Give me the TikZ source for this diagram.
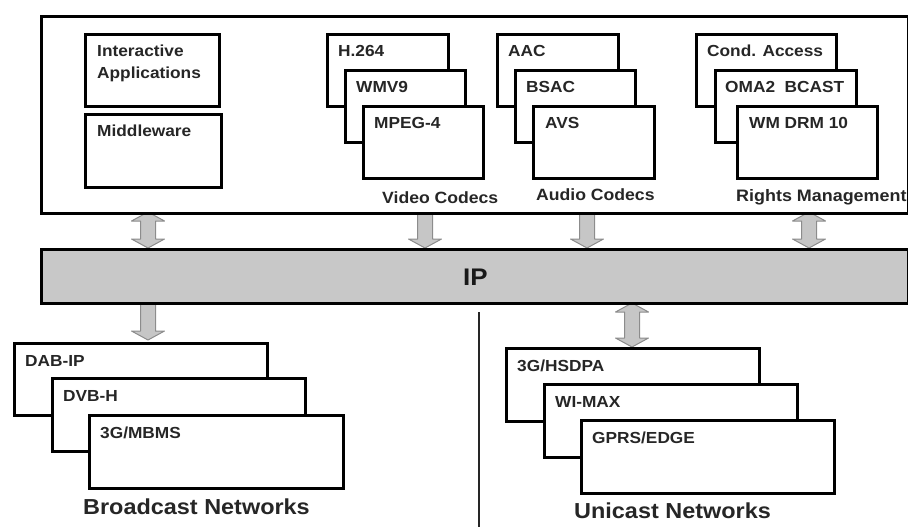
\documentclass[tikz,border=0pt]{standalone}
\usepackage{fontspec}
\setmainfont{Liberation Sans}[FakeStretch=1.08]
\definecolor{ipgray}{RGB}{200,200,200}
\definecolor{arrfill}{RGB}{198,198,198}
\definecolor{arrline}{RGB}{140,140,140}
\newcommand\blkdown[3]{\draw[blkarr] (#1-7.5,#2) -- (#1+7.5,#2) -- (#1+7.5,#3-9) -- (#1+16.5,#3-9) -- (#1,#3) -- (#1-16.5,#3-9) -- (#1-7.5,#3-9) -- cycle;}
\newcommand\blkboth[3]{\draw[blkarr] (#1,#2) -- (#1+16.5,#2+9) -- (#1+7.5,#2+9) -- (#1+7.5,#3-9) -- (#1+16.5,#3-9) -- (#1,#3) -- (#1-16.5,#3-9) -- (#1-7.5,#3-9) -- (#1-7.5,#2+9) -- (#1-16.5,#2+9) -- cycle;}
\begin{document}
\begin{tikzpicture}[x=1pt,y=-1pt,
  box/.style={draw=black, line width=2.6pt, fill=white, rectangle, anchor=north west, inner sep=0pt},
  txt/.style={anchor=base west, inner sep=0pt, font=\fontsize{16}{19}\selectfont\bfseries, text=black!85},
  lbl/.style={anchor=base west, inner sep=0pt, font=\fontsize{16.3}{19}\selectfont\bfseries, text=black!85},
  netlbl/.style={anchor=base west, inner sep=0pt, font=\fontsize{21.7}{25}\selectfont\bfseries, text=black!85},
  blkarr/.style={fill=arrfill, draw=arrline, line width=1pt, line join=round}]
\useasboundingbox (0,0) rectangle (908,527);

% block arrows
\blkboth{148}{212}{248}
\blkdown{425}{212}{248}
\blkdown{587}{212}{248}
\blkboth{809}{212}{248}
\blkdown{148}{302}{340}
\blkboth{632}{303}{347}

% top container
\node[box, minimum width=866.5, minimum height=197] (top) at (40,15) {};
\node[box, minimum width=134, minimum height=72] (ia) at (84,33) {};
\node[txt] (iat1) at ([shift={(13,23.5)}]ia.north west) {Interactive};
\node[txt] (iat2) at ([shift={(13,45.5)}]ia.north west) {Applications};
\node[box, minimum width=136, minimum height=73] (mw) at (84,113) {};
\node[txt] (mwt) at ([shift={(13,23.5)}]mw.north west) {Middleware};

% video codecs
\node[box, minimum width=121, minimum height=72] (h264) at (326,33) {};
\node[txt] at ([shift={(12,23.5)}]h264.north west) {H.264};
\node[box, minimum width=120, minimum height=72] (wmv) at (344,69) {};
\node[txt] at ([shift={(12,23.5)}]wmv.north west) {WMV9};
\node[box, minimum width=120, minimum height=72] (mpeg) at (362,105) {};
\node[txt] at ([shift={(12,23.5)}]mpeg.north west) {MPEG-4};
\node[lbl] (vc) at (382,203) {Video Codecs};

% audio codecs
\node[box, minimum width=121, minimum height=72] (aac) at (496,33) {};
\node[txt] at ([shift={(12,23.5)}]aac.north west) {AAC};
\node[box, minimum width=120, minimum height=72] (bsac) at (514,69) {};
\node[txt] at ([shift={(12,23.5)}]bsac.north west) {BSAC};
\node[box, minimum width=121, minimum height=72] (avs) at (532,105) {};
\node[txt] at ([shift={(13,23.5)}]avs.north west) {AVS};
\node[lbl] (ac) at (536,200) {Audio Codecs};

% rights management
\node[box, minimum width=140, minimum height=72] (cond) at (695,33) {};
\node[txt] at ([shift={(12,23.5)}]cond.north west) {Cond. Access};
\node[box, minimum width=141, minimum height=72] (oma) at (714,69) {};
\node[txt] at ([shift={(11,23.5)}]oma.north west) {OMA2\ \ BCAST};
\node[box, minimum width=140, minimum height=72] (wmd) at (736,105) {};
\node[txt] at ([shift={(13,23.5)}]wmd.north west) {WM DRM 10};
\node[lbl, font=\fontsize{16.6}{19}\selectfont\bfseries] (rm) at (736,201) {Rights Management};

% IP bar
\node[box, fill=ipgray, minimum width=866.5, minimum height=54] (ip) at (40,248) {};
\node[anchor=base west, inner sep=0pt, font=\fontsize{24}{28}\selectfont\bfseries, text=black!90] (ipt) at (463,285) {IP};

% broadcast networks
\node[box, minimum width=253, minimum height=72] (dab) at (13,342) {};
\node[txt] at ([shift={(12,24)}]dab.north west) {DAB-IP};
\node[box, minimum width=253, minimum height=73] (dvb) at (51,377) {};
\node[txt] at ([shift={(12,24)}]dvb.north west) {DVB-H};
\node[box, minimum width=254, minimum height=73] (mbms) at (88,414) {};
\node[txt] at ([shift={(12,24)}]mbms.north west) {3G/MBMS};
\node[netlbl] (bn) at (83,514) {Broadcast Networks};

% separator
\coordinate (sepa) at (479,312);
\coordinate (sepb) at (479,527);
\draw[line width=2.4pt, black!85] (sepa) -- (sepb);

% unicast networks
\node[box, minimum width=253, minimum height=73] (hsdpa) at (505,347) {};
\node[txt] at ([shift={(12,24)}]hsdpa.north west) {3G/HSDPA};
\node[box, minimum width=253, minimum height=73] (wimax) at (543,383) {};
\node[txt] at ([shift={(12,24)}]wimax.north west) {WI-MAX};
\node[box, minimum width=253, minimum height=73] (gprs) at (580,419) {};
\node[txt] at ([shift={(12,24)}]gprs.north west) {GPRS/EDGE};
\node[netlbl] (un) at (574,518) {Unicast Networks};
\end{tikzpicture}
\end{document}
